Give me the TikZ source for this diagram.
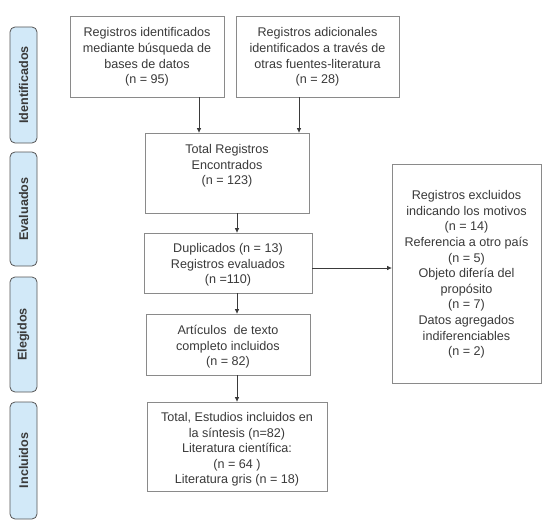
\documentclass[tikz,border=0pt]{standalone}
\usepackage{fontspec}
\setmainfont{Liberation Sans}
\usetikzlibrary{arrows.meta}
\definecolor{txt}{HTML}{3A3A3A}
\definecolor{bord}{HTML}{8A8A8A}
\definecolor{lblfill}{HTML}{D2E9F8}
\definecolor{lblbord}{HTML}{555555}
\begin{document}
\begin{tikzpicture}[x=1pt,y=-1pt,
  box/.style={draw=bord, line width=0.8pt, fill=white, inner sep=0pt},
  tx/.style={align=center, inner sep=0pt, text=txt, font=\fontsize{12.6}{15.6}\selectfont},
  lbl/.style={draw=lblbord, line width=0.8pt, fill=lblfill, rounded corners=5pt,
    minimum width=27pt, inner sep=0pt},
  lt/.style={rotate=90, text=txt, inner sep=0pt, font=\bfseries\fontsize{12.6}{15}\selectfont},
  arr/.style={draw=txt, line width=0.7pt, -{Triangle[length=4.5pt,width=4pt]}}]
\useasboundingbox (0,0) rectangle (552,527);
% stage labels
\node[lbl, minimum height=116pt] (l1) at (23.5,85) {};
\node[lt] (t1) at (l1.center) {Identificados};
\node[lbl, minimum height=114pt] (l2) at (23.5,209) {};
\node[lt] (t2) at (l2.center) {Evaluados};
\node[lbl, minimum height=115pt] (l3) at (23.5,334.5) {};
\node[lt] (t3) at (l3.center) {Elegidos};
\node[lbl, minimum height=117pt] (l4) at (23.5,460.5) {};
\node[lt] (t4) at (l4.center) {Incluidos};
% boxes
\node[box, minimum width=154pt, minimum height=81pt] (b1) at (147,56.5) {};
\node[tx] (x1) at ([yshift=-0.5pt]b1.center)
  {Registros identificados\\mediante búsqueda de\\bases de datos\\(n = 95)};
\node[box, minimum width=163pt, minimum height=81pt] (b2) at (317.5,56.5) {};
\node[tx] (x2) at ([yshift=-0.5pt]b2.center)
  {Registros adicionales\\identificados a través de\\otras fuentes-literatura\\(n = 28)};
\node[box, minimum width=164pt, minimum height=80pt] (b3) at (227,173) {};
\node[tx] (x3) at ([yshift=7pt]b3.center)
  {Total Registros\\Encontrados\\(n = 123)};
\node[box, minimum width=168pt, minimum height=60pt] (b4) at (228,263) {};
\node[tx] (x4) at ([yshift=-2pt]b4.center)
  {Duplicados (n = 13)\\Registros evaluados\\(n =110)};
\node[box, minimum width=164pt, minimum height=61pt] (b5) at (228,344.5) {};
\node[tx] (x5) at ([yshift=-2.5pt]b5.center)
  {Artículos\ \ de texto\\completo incluidos\\(n = 82)};
\node[box, minimum width=180pt, minimum height=89pt] (b6) at (237,446.5) {};
\node[tx] (x6) at ([yshift=-3pt]b6.center)
  {Total, Estudios incluidos en\\la síntesis (n=82)\\Literatura científica:\\(n = 64 )\\Literatura gris (n = 18)};
\node[box, minimum width=149pt, minimum height=219pt] (br) at (466.5,273.5) {};
\node[tx] (xr) at ([yshift=-1pt]br.center)
  {Registros excluidos\\indicando los motivos\\(n = 14)\\Referencia a otro país\\(n = 5)\\Objeto difería del\\propósito\\(n = 7)\\Datos agregados\\indiferenciables\\(n = 2)};
% arrow positions
\coordinate (xa) at (199,0);
\coordinate (xb) at (299,0);
\coordinate (xc) at (237,0);
\coordinate (yr) at (0,268);
\draw[arr] (b1.south -| xa) -- (b3.north -| xa);
\draw[arr] (b2.south -| xb) -- (b3.north -| xb);
\draw[arr] (b3.south -| xc) -- (b4.north -| xc);
\draw[arr] (b4.south -| xc) -- (b5.north -| xc);
\draw[arr] (b5.south -| xc) -- (b6.north -| xc);
\draw[arr] (b4.east |- yr) -- (br.west |- yr);
\end{tikzpicture}
\end{document}
